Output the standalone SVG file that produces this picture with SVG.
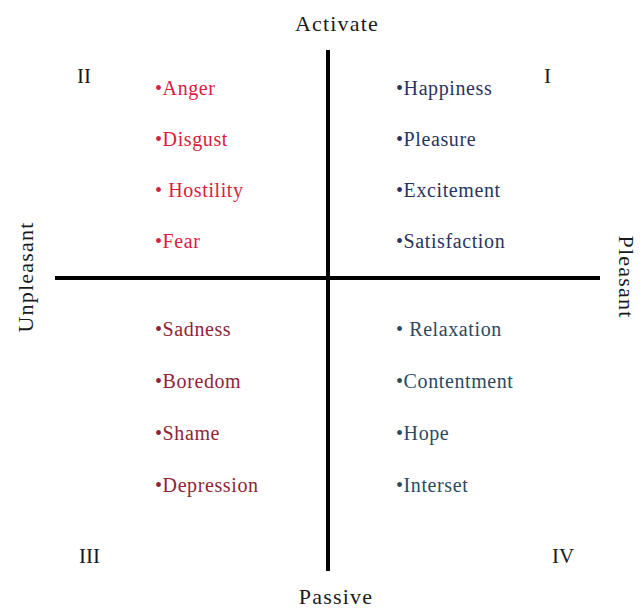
<svg xmlns="http://www.w3.org/2000/svg" width="642" height="612" viewBox="0 0 642 612">
<style>
text{font-family:"Liberation Serif","Times New Roman",serif;}
.ax{font-size:22px;letter-spacing:1.2px;fill:#1a1a1a;}
.num{font-size:21px;fill:#1a1a1a;}
.it{font-size:20px;letter-spacing:0.6px;}
.q2{fill:#d9203c;}
.q3{fill:#8e2535;}
.q1{fill:#283462;}
.q4{fill:#2b4a62;}
.axis{stroke:#000;stroke-width:4;fill:none;}
</style>
<rect width="642" height="612" fill="#fff"/>
<g id="connectors">
<line class="axis" x1="328" y1="50" x2="328" y2="571"/>
<line class="axis" x1="55" y1="278" x2="600" y2="278"/>
</g>
<g id="axis-labels">
<text class="ax" x="337" y="31" text-anchor="middle">Activate</text>
<text class="ax" x="336" y="604" text-anchor="middle">Passive</text>
<text class="ax" transform="translate(33,277) rotate(-90)" text-anchor="middle">Unpleasant</text>
<text class="ax" transform="translate(619,277) rotate(90)" text-anchor="middle">Pleasant</text>
</g>
<g id="numerals">
<text class="num" x="77" y="83">II</text>
<text class="num" x="544" y="83">I</text>
<text class="num" x="79" y="563">III</text>
<text class="num" x="552" y="563">IV</text>
</g>
<g id="quadrant-II">
<text class="it q2" x="155" y="95">•Anger</text>
<text class="it q2" x="155" y="146">•Disgust</text>
<text class="it q2" x="155" y="197">• Hostility</text>
<text class="it q2" x="155" y="248">•Fear</text>
</g>
<g id="quadrant-I">
<text class="it q1" x="396" y="95">•Happiness</text>
<text class="it q1" x="396" y="146">•Pleasure</text>
<text class="it q1" x="396" y="197">•Excitement</text>
<text class="it q1" x="396" y="248">•Satisfaction</text>
</g>
<g id="quadrant-III">
<text class="it q3" x="155" y="336">•Sadness</text>
<text class="it q3" x="155" y="388">•Boredom</text>
<text class="it q3" x="155" y="440">•Shame</text>
<text class="it q3" x="155" y="492">•Depression</text>
</g>
<g id="quadrant-IV">
<text class="it q4" x="396" y="336">• Relaxation</text>
<text class="it q4" x="396" y="388">•Contentment</text>
<text class="it q4" x="396" y="440">•Hope</text>
<text class="it q4" x="396" y="492">•Interset</text>
</g>
</svg>
